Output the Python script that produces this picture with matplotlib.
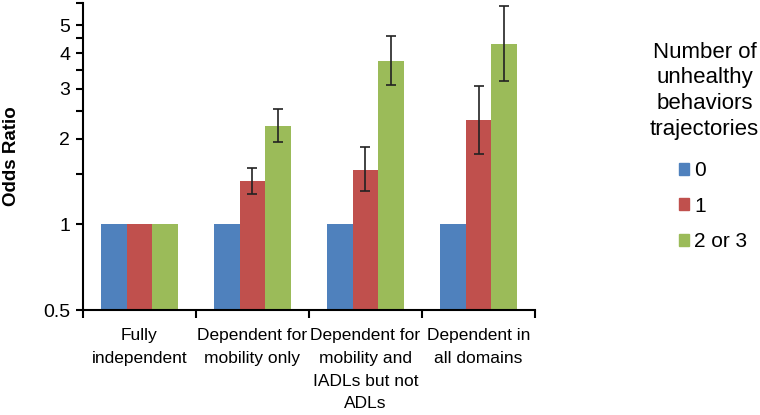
import numpy as np
import matplotlib
matplotlib.use('Agg')
import matplotlib.pyplot as plt
from matplotlib.patches import Patch
from matplotlib.ticker import FixedLocator, NullFormatter

plt.rcParams['font.family'] = ['Liberation Sans', 'DejaVu Sans']

# Data
categories = ['Fully\nindependent', 'Dependent for\nmobility only',
              'Dependent for\nmobility and\nIADLs but not\nADLs', 'Dependent in\nall domains']
series_names = ['0', '1', '2 or 3']
legend_title = 'Number of\nunhealthy\nbehaviors\ntrajectories'
or_0 = [1.0, 1.0, 1.0, 1.0]
or_1 = [1.0, 1.42, 1.55, 2.32]
or_1_lo = [np.nan, 1.28, 1.31, 1.77]
or_1_hi = [np.nan, 1.58, 1.87, 3.06]
or_2 = [1.0, 2.22, 3.75, 4.30]
or_2_lo = [np.nan, 1.94, 3.08, 3.19]
or_2_hi = [np.nan, 2.55, 4.60, 5.87]

colors = ['#4F81BD', '#C0504D', '#9BBB59']
base = 0.5

fig = plt.figure(figsize=(7.6, 4.15), dpi=100)
ax = fig.add_axes([0.109, 0.253, 0.595, 0.74])
ax.set_yscale('log')

x = np.arange(len(categories))
w = 0.225
vals = [or_0, or_1, or_2]
for i, v in enumerate(vals):
    v = np.array(v)
    ax.bar(x + (i - 1) * w, v - base, w, bottom=base, color=colors[i], label=series_names[i])

for off, v, lo, hi in [(0, or_1, or_1_lo, or_1_hi), (1, or_2, or_2_lo, or_2_hi)]:
    v = np.array(v); lo = np.array(lo); hi = np.array(hi)
    m = ~np.isnan(lo)
    ax.errorbar(x[m] + off * w, v[m], yerr=[v[m] - lo[m], hi[m] - v[m]], fmt='none',
                ecolor='#222222', elinewidth=1.2, capsize=3.3, capthick=1.2)

ax.set_ylim(0.5, 6)
ax.set_xlim(-0.5, 3.5)
ax.yaxis.set_major_locator(FixedLocator([0.5, 1, 2, 3, 4, 5]))
ax.yaxis.set_minor_locator(FixedLocator([1.5, 2.5, 3.5, 4.5, 6]))
ax.yaxis.set_minor_formatter(NullFormatter())
ax.set_yticklabels(['0.5', '1', '2', '3', '4', '5'])
ax.tick_params(axis='y', which='both', direction='out', length=5, width=1.5, labelsize=14, pad=4)

ax.set_xticks(x)
ax.set_xticklabels(categories, fontsize=12.5)
for t in ax.get_xticklabels():
    t.set_linespacing(1.65)
ax.xaxis.set_minor_locator(FixedLocator(np.arange(-0.5, 4, 1)))
ax.tick_params(axis='x', which='major', length=0, pad=13)
ax.tick_params(axis='x', which='minor', direction='out', length=6, width=1.5)

for s in ['top', 'right']:
    ax.spines[s].set_visible(False)
for s in ['left', 'bottom']:
    ax.spines[s].set_linewidth(1.5)

ax.set_ylabel('Odds Ratio', fontsize=13.5, fontweight='bold')
ax.yaxis.set_label_coords(-0.14, 0.5)

# legend: title as separate centred text, entries below
fig.text(0.927, 0.90, legend_title, ha='center', va='top', fontsize=16, linespacing=1.3)
handles = [Patch(color=c) for c in colors]
fig.legend(handles, series_names, loc='upper left', bbox_to_anchor=(0.893, 0.612),
           frameon=False, fontsize=15, handlelength=0.5, handleheight=0.5,
           handletextpad=0.25, labelspacing=0.8, borderpad=0, borderaxespad=0)

fig.savefig('out.png', dpi=100)
